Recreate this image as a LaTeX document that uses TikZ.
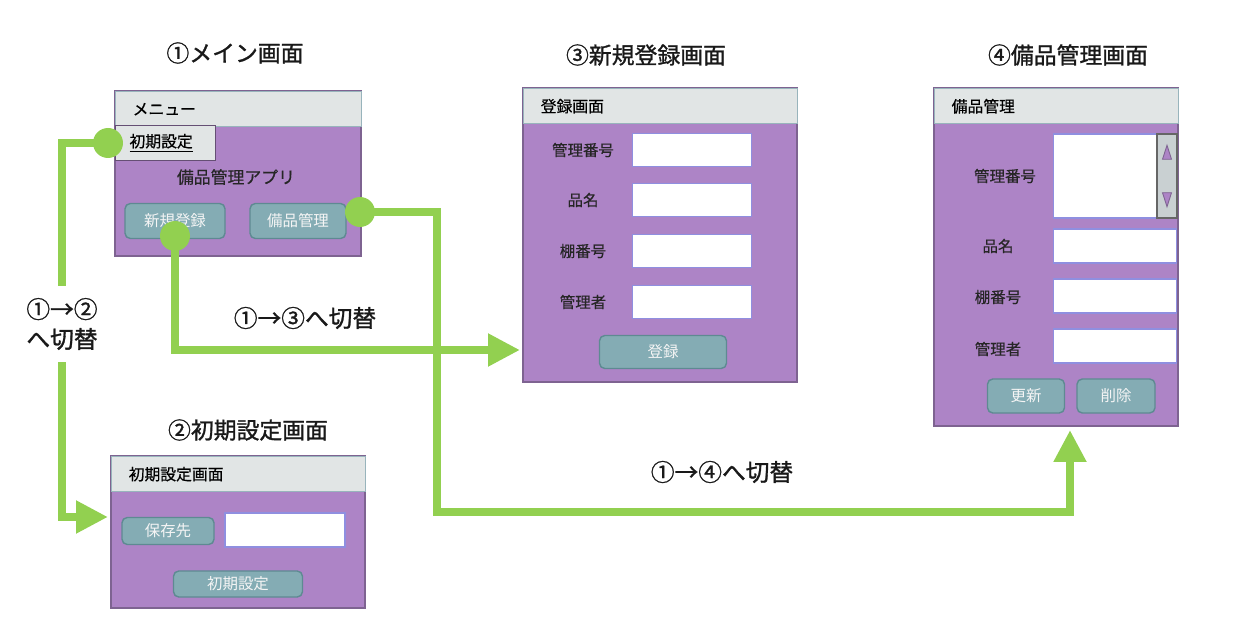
\documentclass[tikz,border=0pt]{standalone}
\usepackage{fontspec}
\setmainfont{Noto Sans CJK JP}
\newfontfamily\headfont[FakeBold=1.2]{Noto Sans CJK JP}
\newfontfamily\labfont[FakeBold=0.5]{Noto Sans CJK JP}
\usetikzlibrary{arrows.meta,positioning}

\definecolor{winbody}{HTML}{AD84C6}
\definecolor{winedge}{HTML}{7E6391}
\definecolor{hdrfill}{HTML}{E1E5E5}
\definecolor{hdredge}{HTML}{98B4BC}
\definecolor{btnfill}{HTML}{84ACB4}
\definecolor{btnedge}{HTML}{5E8A92}
\definecolor{boxedge}{HTML}{8F8FE0}
\definecolor{scrfill}{HTML}{C9D0D2}
\definecolor{flow}{HTML}{92D050}

\begin{document}
\begin{tikzpicture}[
  x=0.02cm, y=-0.02cm,
  win/.style 2 args={draw=winedge,fill=winbody,line width=1pt,anchor=north west,
    inner sep=0pt,outer sep=0pt,minimum width=#1*0.02cm,minimum height=#2*0.02cm},
  hdr/.style={draw=hdredge,fill=hdrfill,line width=0.8pt,anchor=north west,
    inner xsep=0.34cm,inner ysep=0pt,text width=#1*0.02cm-0.68cm,align=left,
    minimum height=0.7cm,font=\labfont\fontsize{9}{10}\selectfont},
  menuitem/.style={draw=winedge!80!black,fill=hdrfill,line width=0.6pt,anchor=north west,
    inner xsep=0.28cm,text width=1.44cm,align=left,minimum height=0.7cm,
    font=\labfont\fontsize{9}{10}\selectfont},
  btn/.style 2 args={draw=btnedge,fill=btnfill,line width=0.8pt,rounded corners=3pt,
    text=white!92!gray,minimum width=#1*0.02cm,minimum height=#2*0.02cm,
    inner sep=0pt,font=\fontsize{8.8}{10}\selectfont},
  field/.style 2 args={draw=boxedge,fill=white,line width=0.6pt,inner sep=0pt,
    minimum width=#1*0.02cm,minimum height=#2*0.02cm},
  lbl/.style={text=black!85,font=\labfont\fontsize{8.8}{10}\selectfont},
  title/.style={text=black!90,font=\headfont\fontsize{13}{15}\selectfont},
  switch/.style={text=black!90,font=\headfont\fontsize{13.5}{17}\selectfont,align=center},
  flowline/.style={draw=flow,line width=0.16cm},
  tip/.style={-{Triangle[length=0.64cm,width=0.62cm]}},
  dot/.style={circle,fill=flow,minimum size=0.6cm,inner sep=0pt}
]
\useasboundingbox (0,0) rectangle (1236,634);

% (1) main screen
\node[title] (maintitle) at (235,53) {①メイン画面};
\node[win={246}{165}] (mainwin) at (115,91) {};
\node[hdr=246] (mainhdr) at (115,91) {メニュー};
\node[menuitem] (initmenu) at (115,125) {\underline{初期設定}};
\node[lbl,font=\labfont\fontsize{9.6}{11}\selectfont] (appname) at (236,177) {備品管理アプリ};
\node[btn={100}{35}] (newbtn) at (175,221) {新規登録};
\node[btn={96}{35}] (itembtn) at (298,221) {備品管理};

% (2) initial settings screen
\node[title] (inittitle) at (248,430) {②初期設定画面};
\node[win={254}{152}] (initwin) at (111,456) {};
\node[hdr=254] (inithdr) at (111,456) {初期設定画面};
\node[btn={92}{27}] (savebtn) at (168,531) {保存先};
\node[field={120}{34}] (savebox) at (285,530) {};
\node[btn={129}{26}] (initbtn) at (238,584) {初期設定};

% (3) new registration screen
\node[title] (regtitle) at (646,55) {③新規登録画面};
\node[win={274}{294}] (regwin) at (523,88) {};
\node[hdr=274] (reghdr) at (523,88) {登録画面};
\foreach \lab/\y [count=\i] in {管理番号/150,品名/200,棚番号/251,管理者/302}{
  \node[lbl] (reglab\i) at (583,\y) {\lab};
  \node[field={119}{33}] (regbox\i) at (692,\y) {};
}
\node[btn={127}{33}] (regbtn) at (663,352) {登録};

% (4) item management screen
\node[title] (itemtitle) at (1068,55) {④備品管理画面};
\node[win={244}{338}] (itemwin) at (934,88) {};
\node[hdr=244] (itemhdr) at (934,88) {備品管理};
\node[lbl] (itemlab1) at (1005,176) {管理番号};
\node[field={103}{84}] (listbox) at (1105,176) {};
\node[draw=black!60,fill=scrfill,line width=0.8pt,inner sep=0pt,
  minimum width=0.4cm,minimum height=1.68cm] (scroll) at (1167,176) {};
\filldraw[draw=winedge,fill=winbody,line width=0.5pt]
  ([yshift=-0.24cm]scroll.north) -- ++(-4.5,14) -- ++(9,0) -- cycle;
\filldraw[draw=winedge,fill=winbody,line width=0.5pt]
  ([yshift=0.24cm]scroll.south) -- ++(-4.5,-14) -- ++(9,0) -- cycle;
\foreach \lab/\y [count=\i from 2] in {品名/246,棚番号/297,管理者/349}{
  \node[lbl] (itemlab\i) at (998,\y) {\lab};
}
\foreach \y [count=\i] in {246,296,346}{
  \node[field={123}{34}] (itembox\i) at (1115,\y) {};
}
\node[btn={77}{34}] (updbtn) at (1026,396) {更新};
\node[btn={78}{34}] (delbtn) at (1116,396) {削除};

% switching flows
\node[dot] (dot1) at (108,143) {};
\node[dot] (dot2) at (175,236) {};
\node[dot] (dot3) at (360,212) {};
\coordinate (toinit) at (108,517);
\coordinate (toreg) at (520,350);
\coordinate (toitem) at (1070,430);

\draw[flowline,tip] (dot1.center) -| (62,517) -- (toinit);
\draw[flowline,tip] (dot2.center) |- (toreg);
\draw[flowline,tip] (dot3.center) -| (437,512) -| (toitem);

\node[switch,fill=white,minimum height=1.52cm] (sw12) at (62,324) {①→②\\へ切替};
\node[switch] (sw13) at (305,318) {①→③へ切替};
\node[switch] (sw14) at (722,472) {①→④へ切替};
\end{tikzpicture}
\end{document}
